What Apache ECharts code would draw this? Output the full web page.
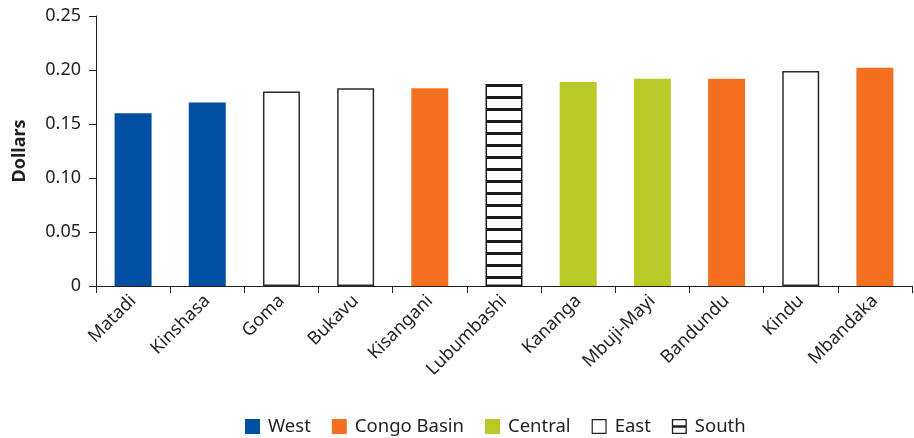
<!DOCTYPE html>
<html>
<head>
<meta charset="utf-8">
<script src="https://cdn.jsdelivr.net/npm/echarts@6/dist/echarts.min.js"></script>
<style>
  html, body { margin: 0; padding: 0; background: #fff; }
  #chart { width: 914px; height: 438px; }
</style>
</head>
<body>
<div id="chart"></div>
<script>
// Price per city, grouped by region
const categories = ['Matadi', 'Kinshasa', 'Goma', 'Bukavu', 'Kisangani', 'Lubumbashi', 'Kananga', 'Mbuji-Mayi', 'Bandundu', 'Kindu', 'Mbandaka'];
const values = [0.160, 0.170, 0.180, 0.183, 0.183, 0.187, 0.189, 0.192, 0.192, 0.199, 0.202];
const cityRegion = ['West', 'West', 'East', 'East', 'Congo Basin', 'South', 'Central', 'Central', 'Congo Basin', 'East', 'Congo Basin'];
const regions = ['West', 'Congo Basin', 'Central', 'East', 'South'];
const yTickValues = [0, 0.05, 0.10, 0.15, 0.20, 0.25];

const FONT = '"Noto Sans", sans-serif';
const INK = '#231f20';

// horizontal stripe fill for the South bar
function stripePattern() {
  const c = document.createElement('canvas');
  c.width = 12; c.height = 12;
  const g = c.getContext('2d');
  g.fillStyle = '#ffffff';
  g.fillRect(0, 0, 12, 12);
  g.fillStyle = '#1a1a1a';
  g.fillRect(0, 0, 12, 3);
  return { image: c, repeat: 'repeat' };
}

const regionStyle = {
  'West':        { color: '#004fa3' },
  'Congo Basin': { color: '#f37021' },
  'Central':     { color: '#b9c927' },
  'East':        { color: '#ffffff', borderColor: '#2b2b2b', borderWidth: 1.5 },
  'South':       { color: stripePattern(), borderColor: '#1a1a1a', borderWidth: 1.5 }
};

const legendIcon = {
  'West': 'rect',
  'Congo Basin': 'rect',
  'Central': 'rect',
  // outlined box
  'East': 'path://M0,0H20V20H0Z M1.6,1.6V18.4H18.4V1.6Z',
  // outlined box with a bar across the middle
  'South': 'path://M0,0H20V20H0Z M1.8,1.8V8.4H18.2V1.8Z M1.8,11.6V18.2H18.2V11.6Z'
};
const legendColor = {
  'West': '#004fa3',
  'Congo Basin': '#f37021',
  'Central': '#b9c927',
  'East': '#231f20',
  'South': '#231f20'
};

const series = regions.map(r => ({
  name: r,
  type: 'bar',
  stack: 'city',
  barWidth: 37,
  itemStyle: regionStyle[r],
  emphasis: { disabled: true },
  data: values.map((v, i) => cityRegion[i] === r ? v : '-')
}));

const chart = echarts.init(document.getElementById('chart'), null, { renderer: 'canvas' });
chart.setOption({
  animation: false,
  backgroundColor: '#ffffff',
  grid: { left: 96, right: 2, top: 16, bottom: 152, containLabel: false, outerBoundsMode: 'none' },
  legend: {
    top: 412,
    left: 240,
    itemWidth: 15,
    itemHeight: 15,
    itemGap: 21,
    textStyle: { fontFamily: FONT, fontSize: 18.5, color: INK, padding: [0, 0, 0, 3] },
    data: regions.map(r => ({
      name: r,
      icon: legendIcon[r],
      itemStyle: { color: legendColor[r], borderWidth: 0 }
    }))
  },
  xAxis: {
    type: 'category',
    data: categories,
    axisLine: { lineStyle: { color: INK, width: 1 } },
    axisTick: { show: true, length: 7, lineStyle: { color: INK } },
    axisLabel: {
      rotate: 45,
      interval: 0,
      margin: 12,
      fontFamily: FONT,
      fontSize: 18,
      color: INK
    }
  },
  yAxis: {
    type: 'value',
    min: 0,
    max: 0.25,
    interval: 0.05,
    name: 'Dollars',
    nameLocation: 'middle',
    nameGap: 67,
    nameRotate: 90,
    nameTextStyle: { fontFamily: FONT, fontSize: 18, fontWeight: 'bold', color: INK },
    axisLine: { show: true, lineStyle: { color: INK, width: 1 } },
    axisTick: { show: true, length: 7, lineStyle: { color: INK } },
    splitLine: { show: false },
    axisLabel: {
      fontFamily: FONT,
      fontSize: 18,
      color: INK,
      margin: 15,
      formatter: v => {
        const t = yTickValues.find(x => Math.abs(x - v) < 1e-9);
        const val = t === undefined ? v : t;
        return val === 0 ? '0' : val.toFixed(2);
      }
    }
  },
  series: series
});
</script>
</body>
</html>
